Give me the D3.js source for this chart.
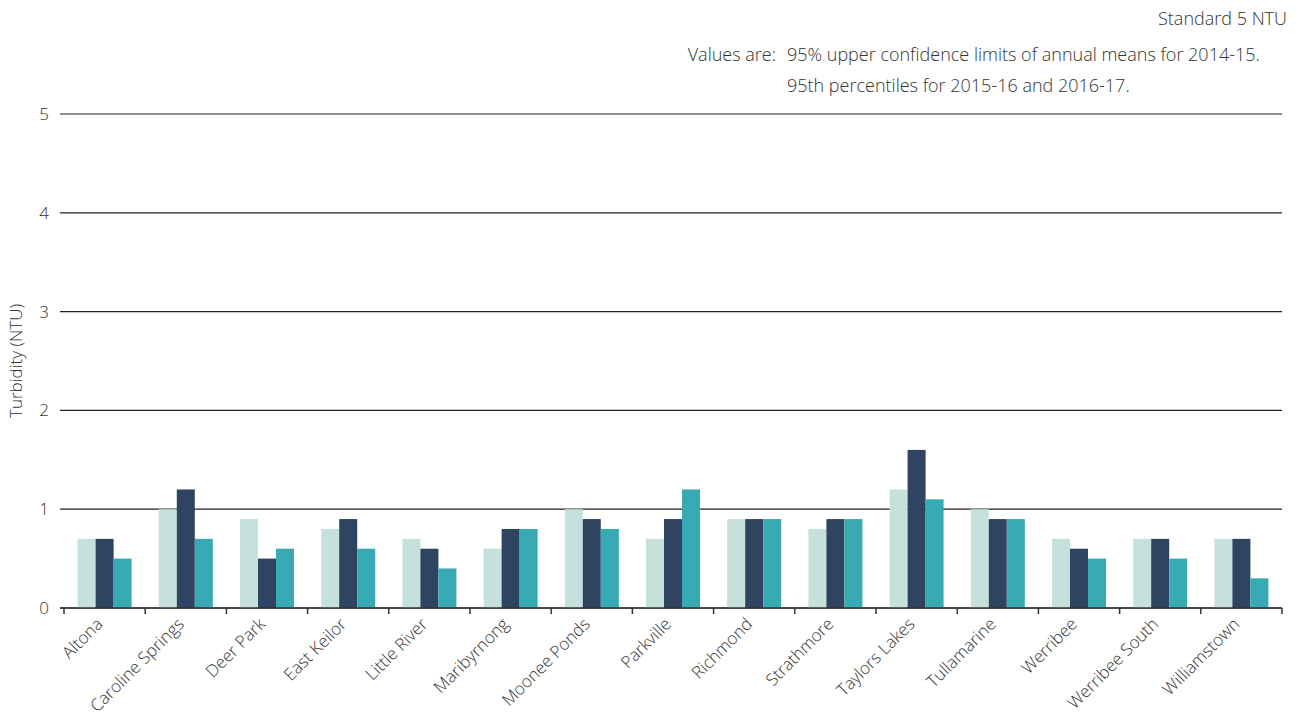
<!DOCTYPE html>
<html>
<head>
<meta charset="utf-8">
<script src="https://cdn.jsdelivr.net/npm/d3@7"></script>
<style>
  html, body { margin: 0; padding: 0; background: #fff; }
  svg { display: block; font-family: "Open Sans", "Noto Sans", sans-serif; font-weight: 300; }
  text { fill: #333; }
</style>
</head>
<body>
<svg id="chart" width="1301" height="717"></svg>
<script>
const categories = ["Altona","Caroline Springs","Deer Park","East Keilor","Little River","Maribyrnong","Moonee Ponds","Parkville","Richmond","Strathmore","Taylors Lakes","Tullamarine","Werribee","Werribee South","Williamstown"];
const seriesNames = ["2014-15","2015-16","2016-17"];
const values2014 = [0.7,1.0,0.9,0.8,0.7,0.6,1.0,0.7,0.9,0.8,1.2,1.0,0.7,0.7,0.7];
const values2015 = [0.7,1.2,0.5,0.9,0.6,0.8,0.9,0.9,0.9,0.9,1.6,0.9,0.6,0.7,0.7];
const values2016 = [0.5,0.7,0.6,0.6,0.4,0.8,0.8,1.2,0.9,0.9,1.1,0.9,0.5,0.5,0.3];
const yTicks = [0,1,2,3,4,5];
const colors = ["#c6e1dc","#2f4461","#37aab4"];

const svg = d3.select("#chart");
const x0 = 64, x1 = 1282, yTop = 114, yBottom = 608;

const x = d3.scaleBand().domain(categories).range([x0, x1]).paddingInner(0).paddingOuter(0);
const xs = d3.scaleBand().domain(seriesNames).range([0, x.bandwidth()]).paddingInner(0).paddingOuter(0.755);
const y = d3.scaleLinear().domain([0,5]).range([yBottom, yTop]);

// gridlines
svg.append("g").selectAll("line").data(yTicks).join("line")
  .attr("x1", 60).attr("x2", x1)
  .attr("y1", d => y(d)).attr("y2", d => y(d))
  .attr("stroke", "#222").attr("stroke-width", 1.2);

// y labels
svg.append("g").selectAll("text").data(yTicks).join("text")
  .attr("x", 49).attr("y", d => y(d)).attr("dy", "0.35em")
  .attr("text-anchor", "end").attr("font-size", 17).text(d => d);

// y title
svg.append("text")
  .attr("transform", `translate(22,${(yTop+yBottom)/2}) rotate(-90)`)
  .attr("text-anchor", "middle").attr("font-size", 17)
  .text("Turbidity (NTU)");

// bars
const series = [values2014, values2015, values2016];
const data = [];
categories.forEach((c, i) => series.forEach((s, j) => data.push({c, s: seriesNames[j], v: s[i], j})));
svg.append("g").selectAll("rect").data(data).join("rect")
  .attr("x", d => x(d.c) + xs(d.s))
  .attr("width", xs.bandwidth())
  .attr("y", d => y(d.v))
  .attr("height", d => y(0) - y(d.v))
  .attr("fill", d => colors[d.j]);

// x axis line and ticks
const ax = svg.append("g");
ax.append("line").attr("x1", 60).attr("x2", x1).attr("y1", yBottom).attr("y2", yBottom)
  .attr("stroke", "#333").attr("stroke-width", 1.5);
const bounds = categories.map(c => x(c)).concat([x1]);
ax.selectAll("line.tick").data(bounds).join("line").attr("class","tick")
  .attr("x1", d => d).attr("x2", d => d).attr("y1", yBottom).attr("y2", yBottom + 6)
  .attr("stroke", "#333").attr("stroke-width", 1.5);

// x labels
svg.append("g").selectAll("text").data(categories).join("text")
  .attr("transform", d => `translate(${x(d) + x.bandwidth()/2 - 5},${yBottom + 13}) rotate(-45)`)
  .attr("text-anchor", "end").attr("dy", "0.35em").attr("font-size", 17)
  .text(d => d);

// annotations
svg.append("text").attr("x", 1287).attr("y", 25).attr("text-anchor", "end")
  .attr("font-size", 18).text("Standard 5 NTU");
svg.append("text").attr("x", 776).attr("y", 61).attr("text-anchor", "end")
  .attr("font-size", 18).text("Values are:");
svg.append("text").attr("x", 787).attr("y", 61)
  .attr("font-size", 18).text("95% upper confidence limits of annual means for 2014-15.");
svg.append("text").attr("x", 787).attr("y", 92)
  .attr("font-size", 18).text("95th percentiles for 2015-16 and 2016-17.");
</script>
</body>
</html>
